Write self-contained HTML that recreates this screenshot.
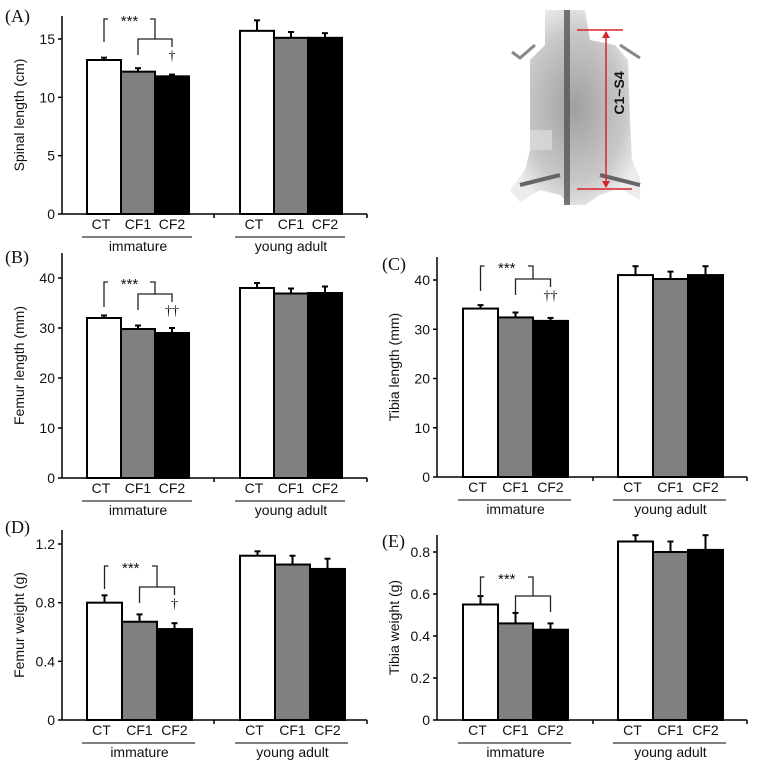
<!DOCTYPE html>
<html><head><meta charset="utf-8"><style>
body{margin:0;background:#fff}
svg{display:block}
text{font-family:"Liberation Sans",Arial,sans-serif;fill:#111}
</style></head><body>
<svg id="fig" width="759" height="771" viewBox="0 0 759 771" xmlns="http://www.w3.org/2000/svg">
<defs>
<radialGradient id="bodyg" cx="50%" cy="50%" r="55%"><stop offset="0" stop-color="#a0a0a0"/><stop offset="0.7" stop-color="#c8c8c8"/><stop offset="1" stop-color="#ececec"/></radialGradient>
</defs>
<g id="xray">
<path d="M545,10 L585,10 L590,40 L615,45 L628,60 L630,120 L632,160 L640,178 L640,200 L620,188 L600,195 L585,205 L570,205 L560,195 L540,190 L520,202 L510,190 L525,170 L530,150 L530,60 L545,45 Z" fill="url(#bodyg)"/>
<rect x="564" y="10" width="6" height="195" fill="#555" opacity="0.8"/>
<path d="M535,45 L520,58 L512,52 M620,45 L640,58" stroke="#888" stroke-width="3" fill="none"/>
<path d="M520,185 L560,175 M640,185 L600,175" stroke="#666" stroke-width="4" fill="none"/>
<rect x="530" y="130" width="22" height="20" fill="#ddd" opacity="0.7"/>
<line x1="577" y1="30" x2="623" y2="30" stroke="#d8232a" stroke-width="1.5"/>
<line x1="577" y1="189" x2="632" y2="189" stroke="#d8232a" stroke-width="1.5"/>
<line x1="606" y1="32" x2="606" y2="187" stroke="#d8232a" stroke-width="1.5"/>
<path d="M602,38 L606,31 L610,38 Z M602,181 L606,188 L610,181 Z" fill="#d8232a"/>
<text x="0" y="0" transform="translate(624,93) rotate(-90)" text-anchor="middle" font-size="14" font-weight="bold">C1~S4</text>
</g>
</svg>
<script>
const groups=["immature","young adult"];
const categories=["CT","CF1","CF2"];
// Panel A: spinal length (cm)
const aMeans=[13.2,12.2,11.8,15.7,15.1,15.1];
const aErr=[0.2,0.3,0.15,0.9,0.5,0.4];
const aTicks=[0,5,10,15];
// Panel B: femur length (mm)
const bMeans=[32,29.8,29,38,36.9,37];
const bErr=[0.5,0.7,1.0,1.0,1.0,1.3];
const bTicks=[0,10,20,30,40];
// Panel C: tibia length (mm)
const cMeans=[34.2,32.4,31.7,41,40.2,41];
const cErr=[0.7,1.0,0.6,1.8,1.5,1.8];
const cTicks=[0,10,20,30,40];
// Panel D: femur weight (g)
const dMeans=[0.80,0.67,0.62,1.12,1.06,1.03];
const dErr=[0.05,0.05,0.04,0.03,0.06,0.07];
const dTicks=[0,0.4,0.8,1.2];
// Panel E: tibia weight (g)
const eMeans=[0.55,0.46,0.43,0.85,0.80,0.81];
const eErr=[0.04,0.05,0.03,0.03,0.05,0.07];
const eTicks=[0,0.2,0.4,0.6,0.8];

const NS="http://www.w3.org/2000/svg";
const svg=document.getElementById('fig');
function mk(tag,attrs,parent){const e=document.createElementNS(NS,tag);for(const k in attrs)e.setAttribute(k,attrs[k]);(parent||svg).appendChild(e);return e;}
const fills=["#fff","#808080","#000"];

function panel(p){
  const g=mk('g',{});
  
  
  const y=v=>p.y0-(v-p.vmin)/(p.vmax-p.vmin)*(p.y0-p.yTopTick);
  const xs=[p.x0,p.x0+p.bw,p.x0+2*p.bw,p.x1,p.x1+p.bw,p.x1+2*p.bw];
  p.means.forEach((m,i)=>{
    const yt=y(m), ye=y(m+p.err[i]);
    const xc=xs[i]+p.bw/2;
    const el=mk('line',{x1:xc,y1:yt,x2:xc,y2:ye,stroke:'#000','stroke-width':2},g);
    
    
    const cap=mk('line',{x1:xc-3,y1:ye,x2:xc+3,y2:ye,stroke:'#000','stroke-width':2},g);
    
    
    const r=mk('rect',{x:xs[i],y:yt,width:p.bw,height:p.y0-yt,fill:fills[i%3],stroke:'#000','stroke-width':2},g);
    
    
  });
  const ax=mk('line',{x1:p.ax,y1:p.yTop,x2:p.ax,y2:p.y0,stroke:'#000','stroke-width':1.5},g);
  
  const xa=mk('line',{x1:p.ax,y1:p.y0,x2:p.xEnd,y2:p.y0,stroke:'#000','stroke-width':1.5},g);
  
  mk('line',{x1:p.xMid,y1:p.y0,x2:p.xMid,y2:p.y0+4,stroke:'#000','stroke-width':1.5},g);
  mk('line',{x1:p.xEnd,y1:p.y0,x2:p.xEnd,y2:p.y0+4,stroke:'#000','stroke-width':1.5},g);
  p.ticks.forEach(t=>{
    mk('line',{x1:p.ax-4,y1:y(t),x2:p.ax,y2:y(t),stroke:'#000','stroke-width':1.5},g);
    const tx=mk('text',{x:p.ax-7,y:y(t)+5,'text-anchor':'end','font-size':14},g);
    tx.textContent=(p.dec?(t===0?'0':t.toFixed(1)):t);
    
  });
  const yt=mk('text',{transform:`translate(${p.ax-38},${(p.y0+p.yTop)/2}) rotate(-90)`,'text-anchor':'middle','font-size':14},g);
  yt.textContent=p.ytitle;
  const pl=mk('text',{x:p.lx,y:p.ly,'font-size':18,style:'font-family:"Liberation Serif",serif'},g);
  pl.textContent='('+p.id+')';
  xs.forEach((x,i)=>{
    const t=mk('text',{x:x+p.bw/2+(i%3==0?-3:0),y:p.y0+15,'text-anchor':'middle','font-size':14},g);
    t.textContent=categories[i%3];
  });
  [p.x0,p.x1].forEach((x,gi)=>{
    mk('line',{x1:x-5,y1:p.y0+23,x2:x+3*p.bw+3,y2:p.y0+23,stroke:'#000','stroke-width':1},g);
    const t=mk('text',{x:x+1.5*p.bw,y:p.y0+37,'text-anchor':'middle','font-size':14},g);
    t.textContent=groups[gi];
  });
  const b=p.br;
  const s=mk('g',{fill:'none',stroke:'#222','stroke-width':1.3},g);
  
  const c0=xs[0]+p.bw/2, c1=xs[1]+p.bw/2, c2=xs[2]+p.bw/2, cm=(c1+c2)/2;
  mk('path',{d:`M${c0},${b.t+ b.l} L${c0},${b.t} L${c0+4},${b.t} M${cm-5},${b.t} L${cm},${b.t} L${cm},${b.m}`},s);
  mk('path',{d:`M${c1},${b.m+16} L${c1},${b.m} L${c2},${b.m} L${c2},${b.m+(b.dag?8:16)}`},s);
  const st=mk('text',{x:(c0+cm)/2,y:b.t+7,'text-anchor':'middle','font-size':15},g);
  st.textContent='***';
  if(b.dag){const d=mk('text',{x:c2,y:b.m+21,'text-anchor':'middle','font-size':14,style:'font-family:"Liberation Serif",serif'},g);
    d.textContent=b.dag;}
}

panel({id:'A',means:aMeans,err:aErr,ticks:aTicks,vmin:0,vmax:15,y0:214,yTopTick:39,yTop:16,ax:62,xEnd:367,xMid:214,x0:87,x1:240,bw:34,ytitle:'Spinal length (cm)',lx:5,ly:22,br:{t:19,l:23,m:39,dag:'†'}});
panel({id:'B',means:bMeans,err:bErr,ticks:bTicks,vmin:0,vmax:40,y0:478,yTopTick:278,yTop:253,ax:62,xEnd:367,xMid:214,x0:87,x1:240,bw:34,ytitle:'Femur length (mm)',lx:5,ly:263,br:{t:282,l:25,m:294,dag:'††'}});
panel({id:'C',means:cMeans,err:cErr,ticks:cTicks,vmin:0,vmax:40,y0:477,yTopTick:280,yTop:257,ax:437,xEnd:747,xMid:593,x0:463,x1:618,bw:35,ytitle:'Tibia length (mm)',lx:382,ly:270,br:{t:266,l:25,m:279,dag:'††'}});
panel({id:'D',means:dMeans,err:dErr,ticks:dTicks,vmin:0,vmax:1.2,y0:720,yTopTick:544,yTop:530,ax:62,xEnd:367,xMid:214,x0:87,x1:240,bw:35,dec:true,ytitle:'Femur weight (g)',lx:5,ly:533,br:{t:566,l:23,m:587,dag:'†'}});
panel({id:'E',means:eMeans,err:eErr,ticks:eTicks,vmin:0,vmax:0.8,y0:720,yTopTick:552,yTop:535,ax:437,xEnd:747,xMid:593,x0:463,x1:618,bw:35,dec:true,ytitle:'Tibia weight (g)',lx:382,ly:547,br:{t:577,l:22,m:596,dag:''}});
</script>
</body></html>
